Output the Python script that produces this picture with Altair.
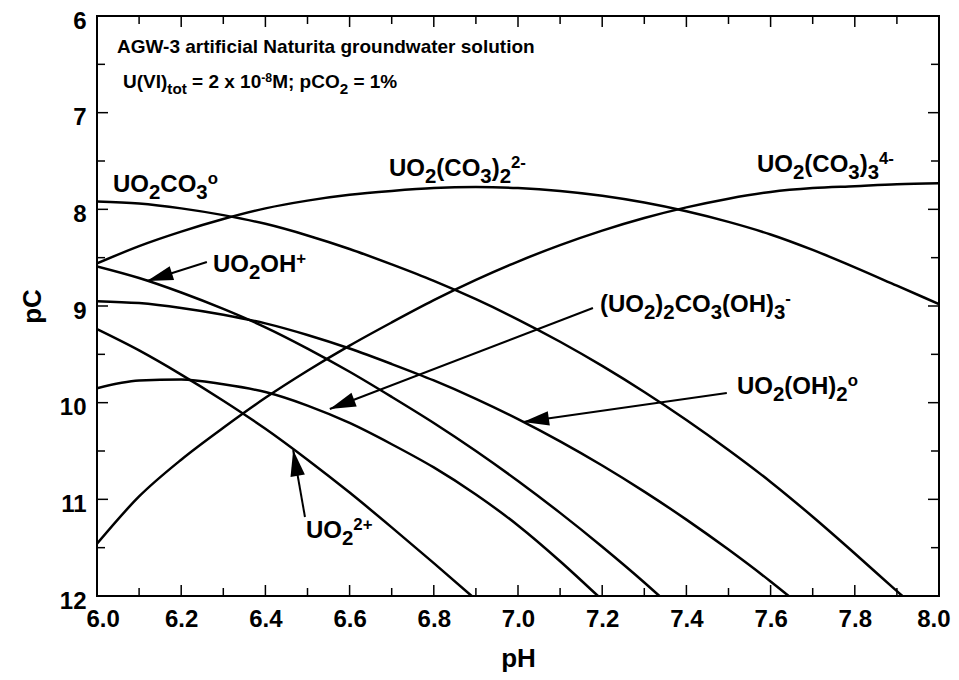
import math
import altair as alt
import pandas as pd

# ---------------- data ----------------
W, H = 842, 580
PH_DOMAIN = [6.0, 8.0]
PC_DOMAIN = [6.0, 12.0]

x_major = [6.0, 6.2, 6.4, 6.6, 6.8, 7.0, 7.2, 7.4, 7.6, 7.8, 8.0]
x_minor = [6.1, 6.3, 6.5, 6.7, 6.9, 7.1, 7.3, 7.5, 7.7, 7.9]
y_major = [6, 7, 8, 9, 10, 11, 12]
y_minor = [6.5, 7.5, 8.5, 9.5, 10.5, 11.5]

ph_full = [6.0, 6.1, 6.2, 6.3, 6.4, 6.5, 6.6, 6.7, 6.8, 6.9, 7.0,
           7.1, 7.2, 7.3, 7.4, 7.5, 7.6, 7.7, 7.8, 7.9, 8.0]
dicarb_pc = [8.56, 8.38, 8.23, 8.10, 7.99, 7.91, 7.85, 7.81, 7.78, 7.77, 7.78,
             7.81, 7.86, 7.93, 8.02, 8.13, 8.26, 8.42, 8.60, 8.79, 8.98]
tricarb_pc = [11.46, 10.97, 10.59, 10.26, 9.95, 9.67, 9.41, 9.17, 8.94, 8.73, 8.54,
              8.37, 8.22, 8.09, 7.98, 7.89, 7.82, 7.78, 7.76, 7.74, 7.73]

monocarb_ph = [6.0, 6.1, 6.2, 6.3, 6.4, 6.5, 6.6, 6.7, 6.8, 6.9, 7.0,
               7.1, 7.2, 7.3, 7.4, 7.5, 7.6, 7.7, 7.8, 7.9, 7.913]
monocarb_pc = [7.92, 7.94, 7.99, 8.06, 8.15, 8.27, 8.41, 8.57, 8.74, 8.93, 9.14,
               9.37, 9.62, 9.89, 10.18, 10.49, 10.82, 11.18, 11.56, 11.95, 12.0]

hydrox2_ph = [6.0, 6.1, 6.2, 6.3, 6.4, 6.5, 6.6, 6.7, 6.8, 6.9, 7.0,
              7.1, 7.2, 7.3, 7.4, 7.5, 7.6, 7.643]
hydrox2_pc = [8.95, 8.97, 9.02, 9.09, 9.18, 9.30, 9.44, 9.60, 9.77, 9.96, 10.17,
              10.40, 10.65, 10.92, 11.21, 11.52, 11.85, 12.0]

hydrox1_ph = [6.0, 6.1, 6.2, 6.3, 6.4, 6.5, 6.6, 6.7, 6.8, 6.9, 7.0,
              7.1, 7.2, 7.3, 7.336]
hydrox1_pc = [8.59, 8.71, 8.86, 9.03, 9.22, 9.44, 9.68, 9.94, 10.21, 10.50, 10.81,
              11.14, 11.49, 11.86, 12.0]

free_ph = [6.0, 6.1, 6.2, 6.3, 6.4, 6.5, 6.6, 6.7, 6.8, 6.89]
free_pc = [9.24, 9.46, 9.71, 9.98, 10.27, 10.59, 10.93, 11.29, 11.66, 12.0]

dimer_ph = [6.0, 6.1, 6.2, 6.3, 6.4, 6.5, 6.6, 6.7, 6.8, 6.9, 7.0, 7.1, 7.19]
dimer_pc = [9.85, 9.77, 9.76, 9.81, 9.89, 10.03, 10.21, 10.43, 10.67, 10.95, 11.27, 11.64, 12.0]

series = {
    "UO2(CO3)2": (ph_full, dicarb_pc),
    "UO2(CO3)3": (ph_full, tricarb_pc),
    "UO2CO3": (monocarb_ph, monocarb_pc),
    "UO2(OH)2": (hydrox2_ph, hydrox2_pc),
    "UO2OH": (hydrox1_ph, hydrox1_pc),
    "UO2": (free_ph, free_pc),
    "dimer": (dimer_ph, dimer_pc),
}

rows = []
for name, (xs_, ys_) in series.items():
    for i, (a, b) in enumerate(zip(xs_, ys_)):
        rows.append({"species": name, "pH": a, "pC": b, "o": i})
curves = pd.DataFrame(rows)

# arrows: tail -> tip in (pH, pC)
arrows = [
    {"tx": 6.261, "ty": 8.545, "hx": 6.119, "hy": 8.741},
    {"tx": 7.178, "ty": 9.021, "hx": 6.553, "hy": 10.065},
    {"tx": 7.496, "ty": 9.900, "hx": 7.012, "hy": 10.200},
    {"tx": 6.494, "ty": 11.183, "hx": 6.466, "hy": 10.490},
]

# ---------------- text layout helpers ----------------
FONT = "Liberation Sans"
CW = {'U': 722, 'O': 778, 'C': 722, 'H': 722, '(': 333, ')': 333, '2': 556, '3': 556,
      '4': 556, '-': 333, '+': 584, 'o': 611, 'V': 667, 'I': 278, 't': 333, ' ': 278,
      '=': 584, 'x': 556, '1': 556, '0': 556, '8': 556, 'M': 833, ';': 333, 'p': 611,
      '%': 889, 'A': 722, 'G': 778, 'W': 944, 'a': 556, 'r': 389, 'i': 278, 'f': 333,
      'c': 556, 'l': 278, 'N': 722, 'u': 611, 'g': 611, 'n': 611, 'd': 611, 'w': 778,
      'e': 556, 's': 556, '.': 278}


def tw(s, fs):
    return sum(CW.get(c, 556) for c in s) / 1000.0 * fs


def px2data(px, py):
    return (PH_DOMAIN[0] + px / W * (PH_DOMAIN[1] - PH_DOMAIN[0]),
            PC_DOMAIN[0] + py / H * (PC_DOMAIN[1] - PC_DOMAIN[0]))


def data2px(ph, pc):
    return ((ph - PH_DOMAIN[0]) / (PH_DOMAIN[1] - PH_DOMAIN[0]) * W,
            (pc - PC_DOMAIN[0]) / (PC_DOMAIN[1] - PC_DOMAIN[0]) * H)


def layout(segs, x, y, fs, ksub=0.85, ksup=0.7):
    out = []
    cx = x
    for txt, kind in segs:
        if kind == "n":
            size, dy = fs, 0.0
        elif kind == "sub":
            size, dy = fs * ksub, 0.30 * fs
        else:
            size, dy = fs * ksup, -0.32 * fs
        size = round(size, 1)
        lead = len(txt) - len(txt.lstrip(" "))
        cx += tw(" " * lead, size)
        body = txt.strip(" ")
        ph, pc = px2data(cx, y + dy)
        out.append({"pH": ph, "pC": pc, "t": body, "fs": size})
        cx += tw(txt.lstrip(" "), size)
    return out


TITLE_FS = 19
LABEL_FS = 24
pieces = []
pieces += layout([("AGW-3 artificial Naturita groundwater solution", "n")], 20, 37, TITLE_FS)
pieces += layout([("U(VI)", "n"), ("tot", "sub"), (" = 2 x 10", "n"), ("-8", "sup"),
                  ("M; pCO", "n"), ("2", "sub"), (" = 1%", "n")], 26, 72, TITLE_FS, 0.8, 0.65)
pieces += layout([("UO", "n"), ("2", "sub"), ("CO", "n"), ("3", "sub"), ("o", "sup")], 16, 176, LABEL_FS)
pieces += layout([("UO", "n"), ("2", "sub"), ("(CO", "n"), ("3", "sub"), (")", "n"), ("2", "sub"),
                  ("2-", "sup")], 292, 160, LABEL_FS)
pieces += layout([("UO", "n"), ("2", "sub"), ("(CO", "n"), ("3", "sub"), (")", "n"), ("3", "sub"),
                  ("4-", "sup")], 660, 156, LABEL_FS)
pieces += layout([("UO", "n"), ("2", "sub"), ("OH", "n"), ("+", "sup")], 116, 256, LABEL_FS)
pieces += layout([("(UO", "n"), ("2", "sub"), (")", "n"), ("2", "sub"), ("CO", "n"), ("3", "sub"),
                  ("(OH)", "n"), ("3", "sub"), ("-", "sup")], 503, 296, LABEL_FS)
pieces += layout([("UO", "n"), ("2", "sub"), ("(OH)", "n"), ("2", "sub"), ("o", "sup")], 640, 378, LABEL_FS)
pieces += layout([("UO", "n"), ("2", "sub"), ("2+", "sup")], 209, 522, LABEL_FS)
text_df = pd.DataFrame(pieces)

# ---------------- chart ----------------
xs = alt.Scale(domain=PH_DOMAIN, nice=False, zero=False)
ys = alt.Scale(domain=PC_DOMAIN, nice=False, zero=False, reverse=True)

x_axis = alt.Axis(values=x_major, format=".1f", tickSize=0, domain=False, grid=False,
                  labelFlush=True, labelFlushOffset=11, labelFontSize=24, labelPadding=11,
                  titleFontSize=26, titlePadding=14)
y_axis = alt.Axis(values=y_major, format="d", tickSize=0, domain=False, grid=False,
                  labelFlush=False, labelFontSize=24, labelPadding=11, labelOffset=5,
                  titleFontSize=26, titlePadding=14)


def X(field):
    return alt.X(field, scale=xs, axis=x_axis, title="pH")


def Y(field):
    return alt.Y(field, scale=ys, axis=y_axis, title="pC")


lines = alt.Chart(curves).mark_line(
    color="black", strokeWidth=2.5, interpolate="monotone", clip=True
).encode(
    x=X("pH:Q"),
    y=Y("pC:Q"),
    detail="species:N",
    order="o:Q",
)

MAJ, MIN = 11, 8


def xticks(vals, ln):
    d = pd.DataFrame({"v": vals})
    bot = alt.Chart(d).mark_rule(color="black", strokeWidth=1.5).encode(
        x=X("v:Q"), y=alt.value(H), y2=alt.value(H - ln))
    top = alt.Chart(d).mark_rule(color="black", strokeWidth=1.5).encode(
        x=X("v:Q"), y=alt.value(0), y2=alt.value(ln))
    return [bot, top]


def yticks(vals, ln):
    d = pd.DataFrame({"v": vals})
    lft = alt.Chart(d).mark_rule(color="black", strokeWidth=1.5).encode(
        y=Y("v:Q"), x=alt.value(0), x2=alt.value(ln))
    rgt = alt.Chart(d).mark_rule(color="black", strokeWidth=1.5).encode(
        y=Y("v:Q"), x=alt.value(W), x2=alt.value(W - ln))
    return [lft, rgt]


tick_layers = xticks(x_major, MAJ) + xticks(x_minor, MIN) + yticks(y_major, MAJ) + yticks(y_minor, MIN)

arr_df = pd.DataFrame(arrows)
shafts = alt.Chart(arr_df).mark_rule(color="black", strokeWidth=2).encode(
    x=X("tx:Q"), y=Y("ty:Q"), x2="hx:Q", y2="hy:Q")

HEAD = "M0,0L0.28,1L-0.28,1Z"
heads = []
for a in arrows:
    tx, ty = data2px(a["tx"], a["ty"])
    hx, hy = data2px(a["hx"], a["hy"])
    ang = math.degrees(math.atan2(hx - tx, -(hy - ty))) % 360
    heads.append(
        alt.Chart(pd.DataFrame([a])).mark_point(
            shape=HEAD, filled=True, color="black", opacity=1, size=2704, angle=ang,
            strokeWidth=0
        ).encode(x=X("hx:Q"), y=Y("hy:Q"))
    )

text_layers = []
for fs in sorted(text_df["fs"].unique()):
    sub = text_df[text_df["fs"] == fs]
    text_layers.append(
        alt.Chart(sub).mark_text(
            align="left", baseline="alphabetic", font=FONT, fontWeight="bold",
            fontSize=float(fs), color="black"
        ).encode(x=X("pH:Q"), y=Y("pC:Q"), text="t:N")
    )

chart = alt.layer(lines, *tick_layers, shafts, *heads, *text_layers).properties(
    width=W, height=H,
    autosize=alt.AutoSizeParams(type="none"),
    padding={"left": 89, "top": 8, "right": 12, "bottom": 76},
).configure_view(
    stroke="black", strokeWidth=2
).configure_axis(
    labelFont=FONT, labelFontWeight="bold", labelColor="black",
    titleFont=FONT, titleFontWeight="bold", titleColor="black",
)

chart.save("out.html", embed_options={"renderer": "svg", "actions": False})
